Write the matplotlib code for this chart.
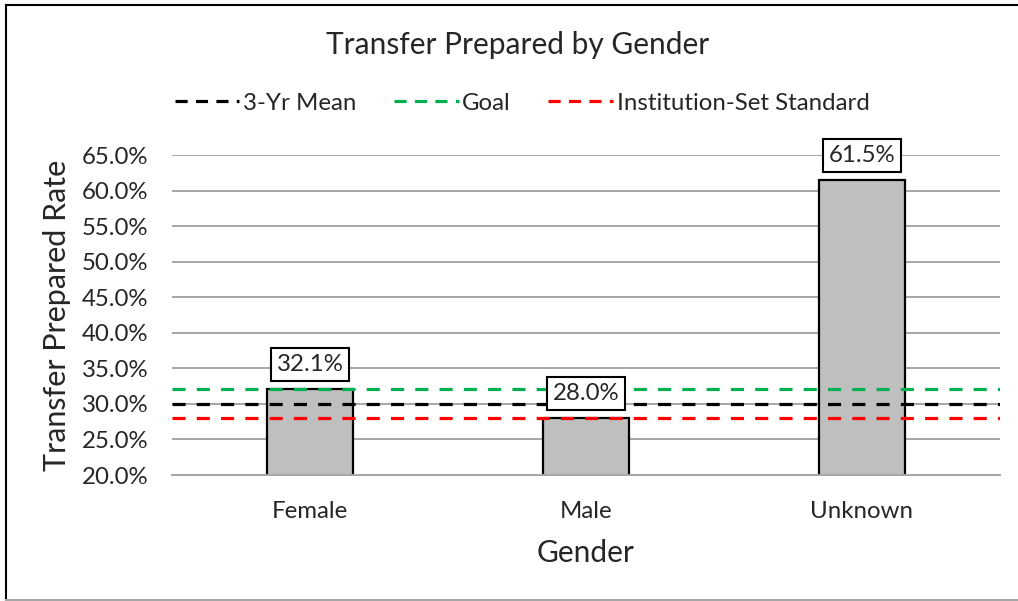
import matplotlib.pyplot as plt
from matplotlib.lines import Line2D

plt.rcParams["font.family"] = ["Lato", "DejaVu Sans"]

# ── Data ────────────────────────────────────────────────────────────────────────
GENDERS = ["Female", "Male", "Unknown"]
RATES = [32.1, 28.0, 61.5]          # transfer prepared rate, %

MEAN_3YR = 30.0
GOAL = 32.1
STANDARD = 28.0

Y_TICKS = [20, 25, 30, 35, 40, 45, 50, 55, 60, 65]

TEXT = "#262626"
W, H = 1018, 601
fig = plt.figure(figsize=(W / 100, H / 100), dpi=100)

# plot area placed in pixel terms
left, right, top, bottom = 172, 1000, 155, 475
ax = fig.add_axes([left / W, 1 - bottom / H, (right - left) / W, (bottom - top) / H])

x = range(len(GENDERS))
ax.bar(x, RATES, width=0.31, color="#bfbfbf", edgecolor="black",
       linewidth=1.6, zorder=2)

ax.set_xlim(-0.5, len(GENDERS) - 0.5)
ax.set_ylim(20, 65)
ax.set_yticks(Y_TICKS)
ax.set_yticklabels([f"{t:.1f}%" for t in Y_TICKS], fontsize=17.3, color=TEXT)
ax.set_xticks(list(x))
ax.set_xticklabels(GENDERS, fontsize=17.3, color=TEXT)
ax.tick_params(length=0)
ax.tick_params(axis="y", pad=17)
ax.tick_params(axis="x", pad=19)

ax.grid(axis="y", color="#a6a6a6", linewidth=1.4, zorder=0)
for side in ["top", "right", "left"]:
    ax.spines[side].set_visible(False)
ax.spines["bottom"].set_color("#a6a6a6")
ax.spines["bottom"].set_linewidth(1.4)

# reference lines across the whole plot
lw = 2.3
dash = (4.1, 3.5)
ax.axhline(GOAL, color="#00b050", linewidth=lw, dashes=dash, zorder=3)
ax.axhline(MEAN_3YR, color="black", linewidth=lw, dashes=dash, zorder=3)
ax.axhline(STANDARD, color="#ff0000", linewidth=lw, dashes=dash, zorder=3)

# boxed value labels above each bar
for xi, v in zip(x, RATES):
    ax.annotate(f"{v:.1f}%", (xi, v), xytext=(0, 10), textcoords="offset points",
                ha="center", va="bottom", fontsize=17.3, color=TEXT,
                zorder=5, annotation_clip=False,
                bbox=dict(boxstyle="square,pad=0.25", facecolor="white",
                          edgecolor="black", linewidth=1.5))

ax.set_ylabel("Transfer Prepared Rate", fontsize=22, color=TEXT, labelpad=8)
ax.set_xlabel("Gender", fontsize=21.5, color=TEXT, labelpad=12)

fig.text(518 / W, 1 - 45 / H, "Transfer Prepared by Gender", ha="center", va="center",
         fontsize=21.5, color=TEXT)

leg_dash = (3.8, 2.6)
handles = [
    Line2D([], [], color="black", linewidth=lw, dashes=leg_dash),
    Line2D([], [], color="#00b050", linewidth=lw, dashes=leg_dash),
    Line2D([], [], color="#ff0000", linewidth=lw, dashes=leg_dash),
]
fig.legend(handles, ["3-Yr Mean", "Goal", "Institution-Set Standard"],
           loc="center", bbox_to_anchor=(522 / W, 1 - 103 / H), ncol=3,
           frameon=False, fontsize=17.3, handlelength=2.7, handletextpad=0.15,
           columnspacing=1.55, labelcolor=TEXT)

# outer chart frame
fig.add_artist(Line2D([6 / W, 6 / W], [0, 1 - 5 / H], color="black", linewidth=1.5,
                      transform=fig.transFigure))
fig.add_artist(Line2D([6 / W, 1], [1 - 5 / H, 1 - 5 / H], color="black", linewidth=1.5,
                      transform=fig.transFigure))
fig.add_artist(Line2D([6 / W, 1], [1.5 / H, 1.5 / H], color="#a6a6a6", linewidth=1.5,
                      transform=fig.transFigure))

fig.savefig("out.png", dpi=100)
